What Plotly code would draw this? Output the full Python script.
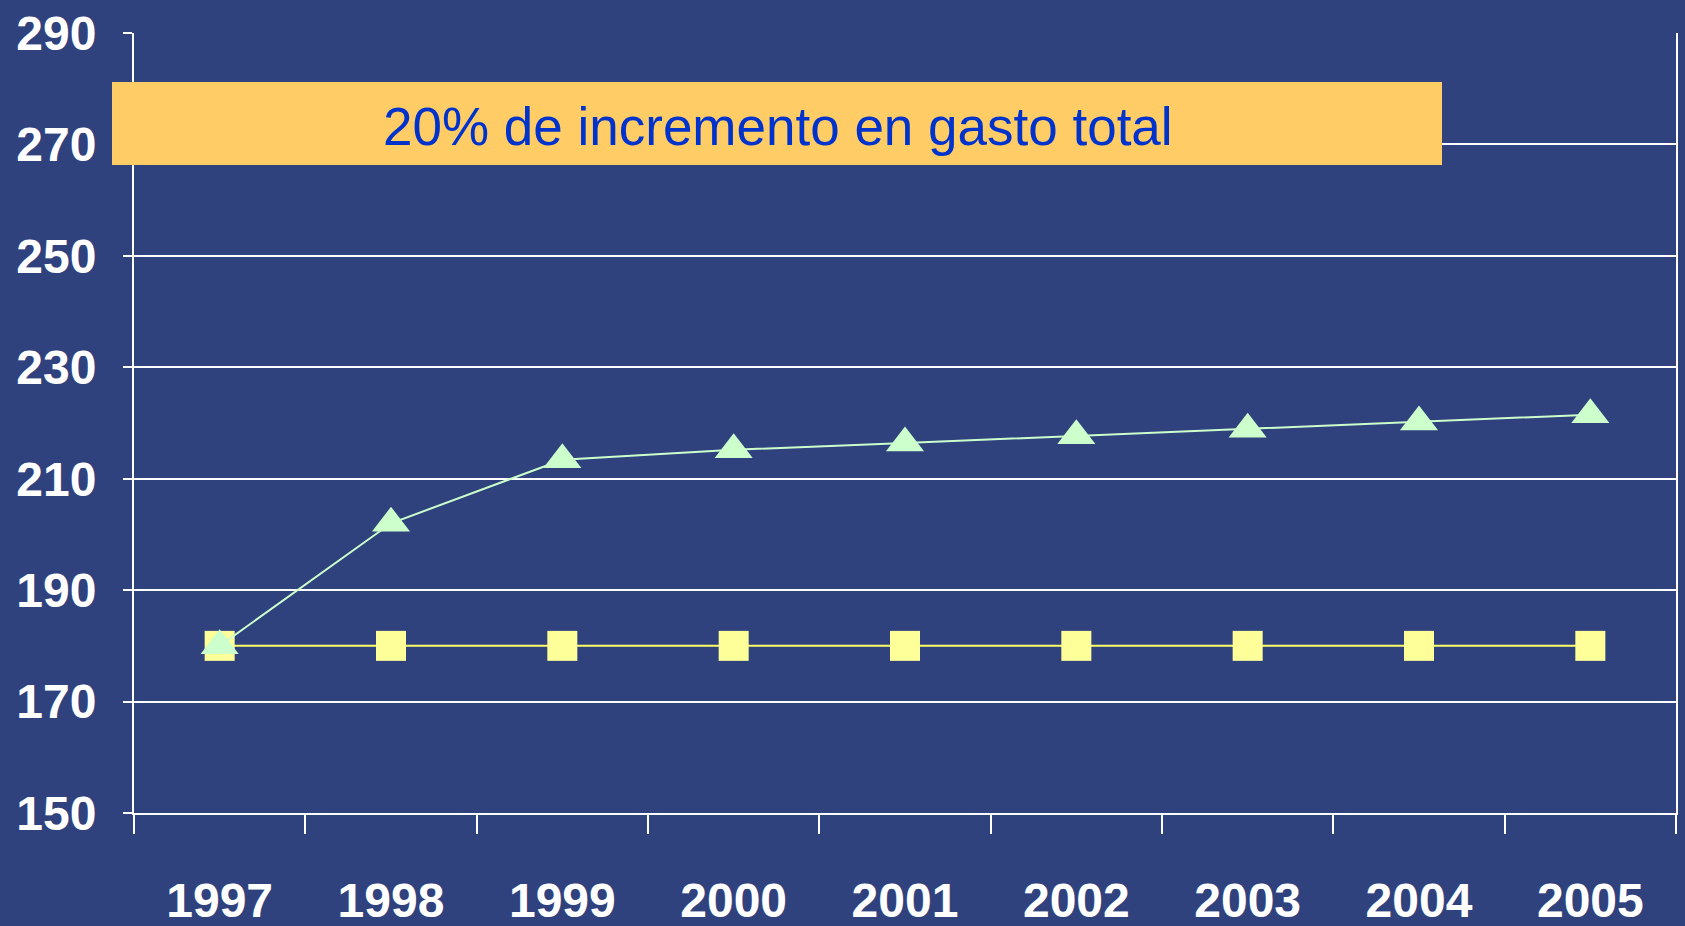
import plotly.graph_objects as go

years = ["1997", "1998", "1999", "2000", "2001", "2002", "2003", "2004", "2005"]
gasto_total = [180, 202, 213.4, 215.2, 216.4, 217.7, 218.9, 220.2, 221.5]
base = [180, 180, 180, 180, 180, 180, 180, 180, 180]
y_ticks = [150, 170, 190, 210, 230, 250, 270, 290]
note = "20% de incremento en gasto total"

W, H = 1685, 926
ML, MR, MT, MB = 134, 9, 33, 113
PW, PH = W - ML - MR, H - MT - MB

def px_x(x):
    return (x - ML) / PW

def px_y(y):
    return (H - MB - y) / PH

bg = "#2f427e"
tick_font = dict(family="Liberation Sans, Arial, sans-serif", size=48, color="white", weight="bold")

fig = go.Figure()
fig.add_trace(go.Scatter(
    x=years, y=base, mode="lines+markers",
    line=dict(color="#ffff66", width=2),
    marker=dict(symbol="square", size=30, color="#ffff99"),
    showlegend=False, hoverinfo="skip",
))
fig.add_trace(go.Scatter(
    x=years, y=gasto_total, mode="lines+markers",
    line=dict(color="#ccffcc", width=2),
    marker=dict(symbol="triangle-up", size=33, color="#ccffcc"),
    showlegend=False, hoverinfo="skip",
))

fig.add_shape(type="rect", xref="paper", yref="paper",
              x0=px_x(112), x1=px_x(1442), y0=px_y(165), y1=px_y(82),
              fillcolor="#ffcc66", line=dict(width=0), layer="above")
fig.add_annotation(xref="paper", yref="paper", x=px_x(778), y=px_y(126),
                   xanchor="center", yanchor="middle", showarrow=False,
                   text=note,
                   font=dict(family="Liberation Sans, Arial, sans-serif", size=53, color="#0033cc"))

fig.update_layout(
    width=W, height=H,
    margin=dict(l=ML, r=MR, t=MT, b=MB, pad=0),
    paper_bgcolor=bg, plot_bgcolor=bg,
    xaxis=dict(type="category", range=[-0.5, 8.5], tickson="boundaries",
               showgrid=False, zeroline=False, automargin=False,
               showline=True, linecolor="white", linewidth=2,
               ticks="outside", ticklen=19, tickwidth=2, tickcolor="white",
               tickfont=tick_font, ticklabelstandoff=44),
    yaxis=dict(range=[150, 290], tickvals=y_ticks, ticktext=[str(v) for v in y_ticks],
               showgrid=True, gridcolor="white", gridwidth=2, zeroline=False, automargin=False,
               showline=True, linecolor="white", linewidth=2, mirror=True,
               ticks="outside", ticklen=9, tickwidth=2, tickcolor="white",
               tickfont=tick_font, ticklabelstandoff=17),
)

fig.write_html("out.html", config={"displayModeBar": False},
               post_script="document.body.style.margin='0';document.body.style.background='%s';" % bg)
